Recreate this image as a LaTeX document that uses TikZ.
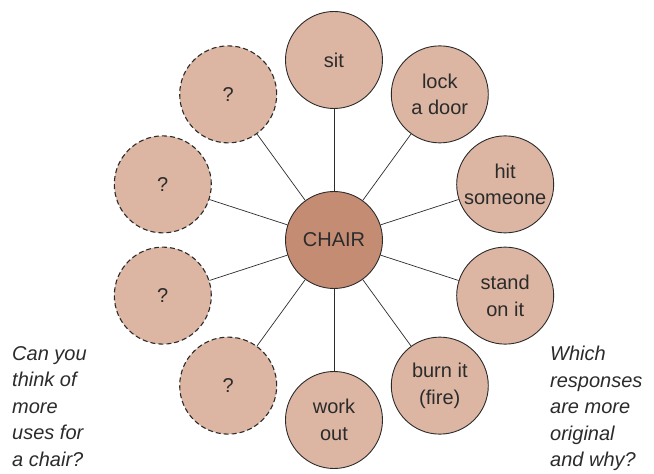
\documentclass[tikz,border=0pt]{standalone}
\usepackage{fontspec}
\setmainfont{Liberation Sans}
\usepackage{tikz}
\usetikzlibrary{positioning}

\definecolor{usefill}{HTML}{DCB6A3}
\definecolor{hubfill}{HTML}{C58C74}
\definecolor{inkgray}{HTML}{2B2B2B}

\begin{document}
\begin{tikzpicture}[x=1pt,y=1pt,
  idea/.style={circle,draw=inkgray,line width=0.9pt,fill=usefill,
               minimum size=97pt,inner sep=0pt,align=center,
               font=\fontsize{20}{26.5}\selectfont,text=inkgray},
  blank/.style={idea,line width=1.1pt,dash pattern=on 5pt off 3pt},
  note/.style={align=left,inner sep=0pt,anchor=north west,
               font=\fontsize{20}{26.5}\selectfont\itshape,text=inkgray}]
\useasboundingbox (-334,-234) rectangle (320,240);

\node[idea,fill=hubfill] (chair) at (0,0) {CHAIR};

% uses around the hub, 36 degrees apart
\node[idea]  (sit)   at (90:180)   {sit};
\node[idea]  (lock)  at (54:180)   {lock\\a door};
\node[idea]  (hit)   at (18:180)   {hit\\someone};
\node[idea]  (stand) at (-18:180)  {stand\\on it};
\node[idea]  (burn)  at (-54:180)  {burn it\\(fire)};
\node[idea]  (work)  at (-90:180)  {work\\out};
\node[blank] (qa)    at (-126:180) {?};
\node[blank] (qb)    at (-162:180) {?};
\node[blank] (qc)    at (162:180)  {?};
\node[blank] (qd)    at (126:180)  {?};

\foreach \n in {sit,lock,hit,stand,burn,work,qa,qb,qc,qd}
  \draw[inkgray,line width=0.7pt] (chair) -- (\n);

\node[note] (askmore) at (-322,-106) {Can you\\think of\\more\\uses for\\a chair?};
\node[note] (askwhy)  at (216,-106)  {Which\\responses\\are more\\original\\and why?};
\end{tikzpicture}
\end{document}
